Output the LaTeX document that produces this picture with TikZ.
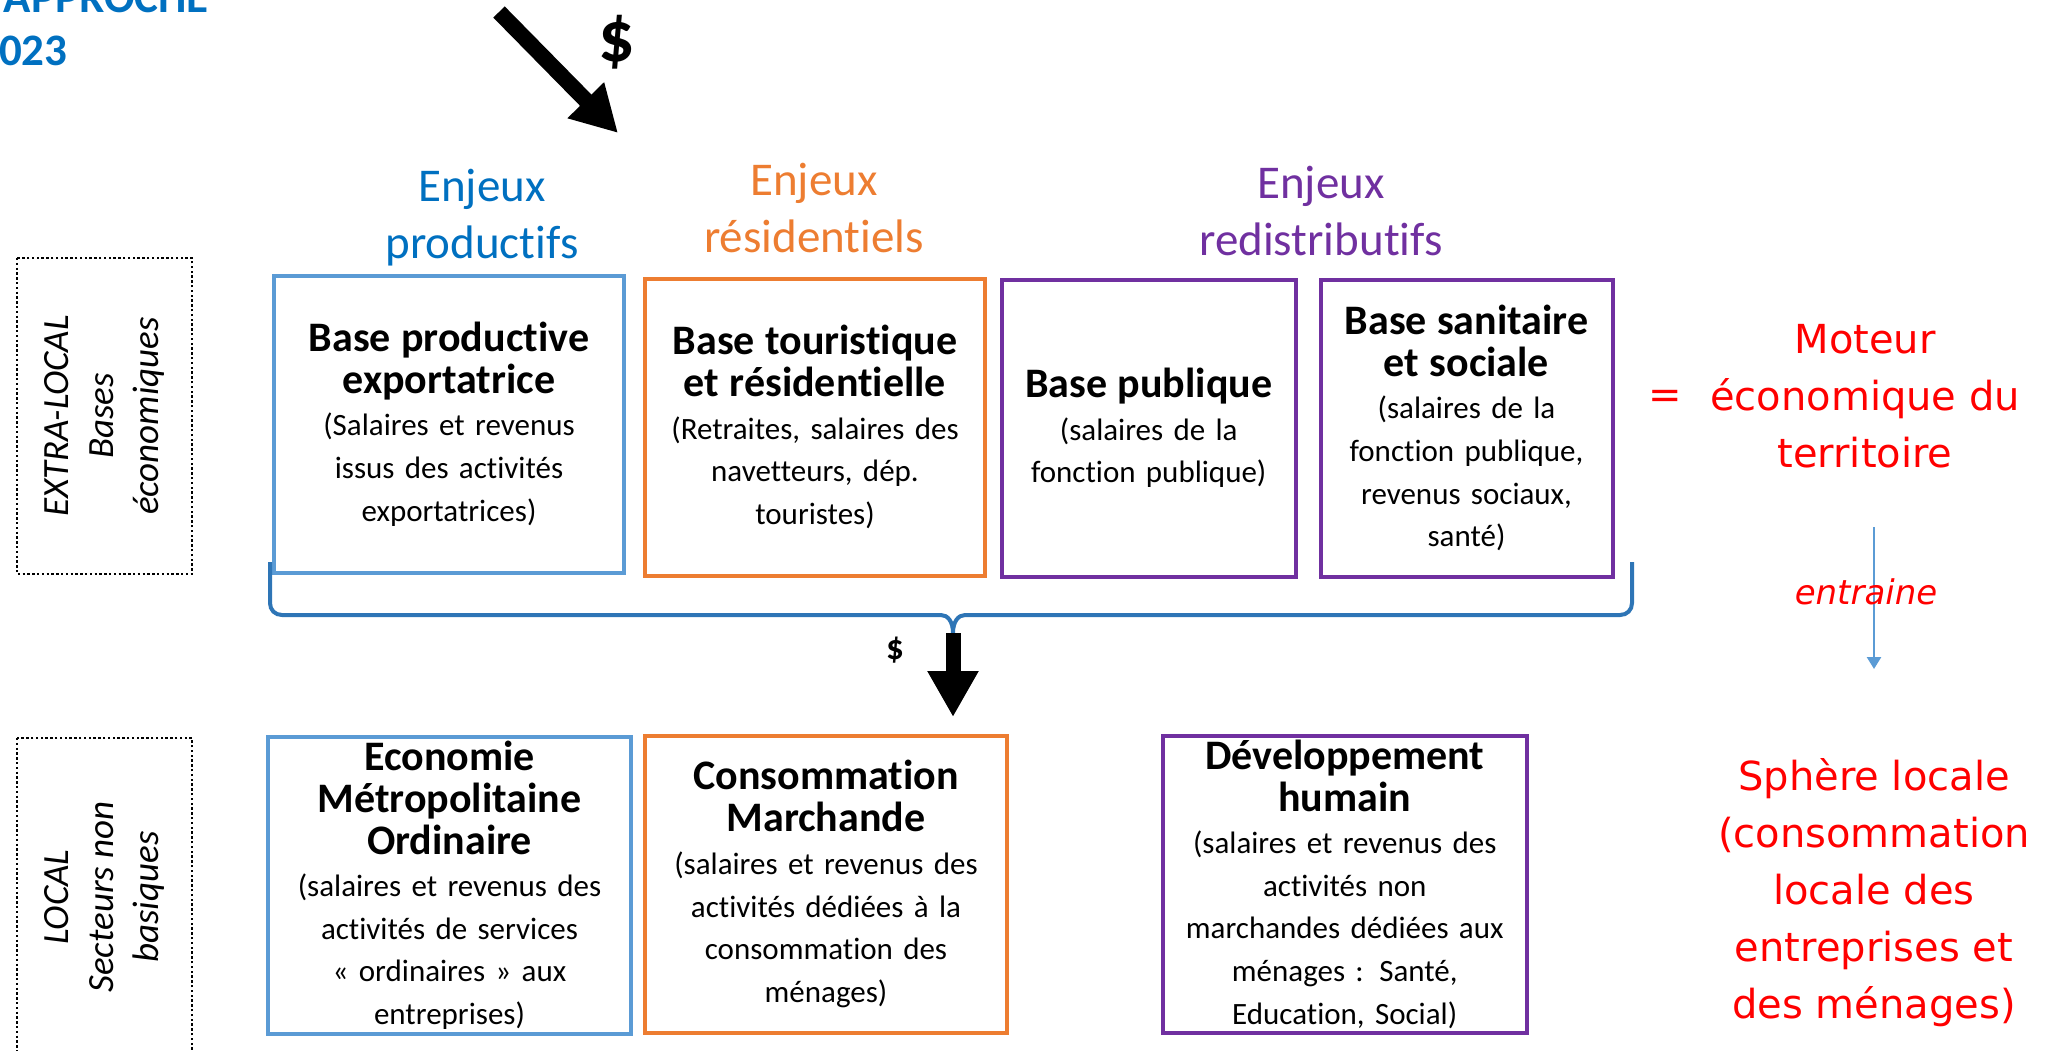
\documentclass[tikz,border=0pt]{standalone}
\usepackage{fontspec}
\setmainfont{Carlito}[Ligatures=NoCommon]
\newfontfamily\redfont{DejaVu Sans}
\usetikzlibrary{arrows.meta}
\definecolor{boxblue}{HTML}{5B9BD5}
\definecolor{boxorange}{HTML}{ED7D31}
\definecolor{boxpurple}{HTML}{7030A0}
\definecolor{hdrblue}{HTML}{0070C0}
\definecolor{braceblue}{HTML}{2E75B6}
\definecolor{motorred}{HTML}{FF0000}
\newcommand{\boxtitle}{\fontsize{21}{21}\selectfont\bfseries}
\newcommand{\boxbody}{\fontsize{15.5}{21.3}\selectfont}

\begin{document}
\begin{tikzpicture}[x=0.5pt, y=0.5pt,
    basebox/.style={draw, line width=2pt, align=center, inner sep=2pt, minimum height=148.5pt, font=\boxbody},
    enjeux/.style={align=center, font=\fontsize{23.5}{28.5}\selectfont},
    sidelabel/.style={draw, line width=1.2pt, dash pattern=on 1.2pt off 1.2pt, rotate=90, align=center, minimum height=87.5pt, font=\itshape\fontsize{18.5}{22.5}\selectfont},
    redtext/.style={text=motorred, align=center, font=\redfont\fontsize{20}{28.5}\selectfont},
    flow/.style={line width=8pt, -{Triangle[width=24pt,length=23pt]}}
  ]
  \useasboundingbox (0,0) rectangle (2045,-1050);
  \clip (0,0) rectangle (2045,-1050);

  % title, cut by the frame
  \node[anchor=base east, inner sep=0pt, text=hdrblue, font=\bfseries\fontsize{22.5}{26}\selectfont] (titre) at (209,-12) {APPROCHE};
  \node[anchor=base east, inner sep=0pt, text=hdrblue, font=\bfseries\fontsize{22.5}{26}\selectfont] (annee) at (68,-65) {2023};

  % money coming in
  \coordinate (flux in) at (499,-12);
  \coordinate (flux base) at (618,-133);
  \draw[flow] (flux in) -- (flux base);
  \node[font=\bfseries\fontsize{36}{36}\selectfont] (dollar) at (617,-42) {\$};

  % enjeux
  \node[enjeux, text=hdrblue] (enjprod) at (482,-218) {Enjeux\\productifs};
  \node[enjeux, text=boxorange] (enjres) at (814,-208) {Enjeux\\résidentiels};
  \node[enjeux, text=boxpurple] (enjred) at (1321,-211) {Enjeux\\redistributifs};

  % side labels
  \node[sidelabel, minimum width=158pt] (extra) at (104.5,-416) {EXTRA-LOCAL\\Bases\\économiques};
  \node[sidelabel, minimum width=159pt] (local) at (104.5,-897) {LOCAL\\Secteurs non\\basiques};

  % bases economiques
  \node[basebox, draw=boxblue, minimum width=174.75pt, text width=168pt] (bprod) at (449,-424)
    {{\boxtitle Base productive\\exportatrice\par}(Salaires et revenus\\issus des activités\\exportatrices)};
  \node[basebox, draw=boxorange, minimum width=170pt, text width=164pt] (btour) at (815,-427)
    {{\boxtitle Base touristique\\et résidentielle\par}(Retraites, salaires des\\navetteurs, dép.\\touristes)};
  \node[basebox, draw=boxpurple, minimum width=147.25pt, text width=141pt] (bpub) at (1148.75,-428)
    {{\boxtitle Base publique\par}(salaires de la\\fonction publique)};
  \node[basebox, draw=boxpurple, minimum width=146pt, text width=140pt] (bsan) at (1466.5,-428)
    {{\boxtitle Base sanitaire\\et sociale\par}(salaires de la\\fonction publique,\\revenus sociaux,\\santé)};

  % brace and local flow
  \draw[braceblue, line width=2pt] (270,-562) -- (270,-603) .. controls (270,-610) and (275,-615) .. (282,-615)
    -- (941,-615) .. controls (948,-615) and (953,-622) .. (953,-633)
    .. controls (953,-622) and (958,-615) .. (965,-615)
    -- (1620,-615) .. controls (1627,-615) and (1632,-610) .. (1632,-603) -- (1632,-562);
  \coordinate (accolade) at (953,-633);
  \coordinate (flux local) at (953,-717);
  \draw[flow, line width=7.5pt] (accolade) -- (flux local);
  \node[font=\bfseries\fontsize{17.5}{17.5}\selectfont] (petitdollar) at (895,-650) {\$};

  % secteurs non basiques
  \node[basebox, draw=boxblue, minimum width=181.5pt, text width=175pt] (eco) at (449.5,-885)
    {{\boxtitle Economie\\Métropolitaine\\Ordinaire\par}(salaires et revenus des\\activités de services\\« ordinaires » aux\\entreprises)};
  \node[basebox, draw=boxorange, minimum width=181pt, text width=175pt] (conso) at (826,-884)
    {{\boxtitle Consommation\\Marchande\par}(salaires et revenus des\\activités dédiées à la\\consommation des\\ménages)};
  \node[basebox, draw=boxpurple, minimum width=181.75pt, text width=175pt] (dev) at (1344.75,-884)
    {{\boxtitle Développement\\humain\par}(salaires et revenus des\\activités non\\marchandes dédiées aux\\ménages : Santé,\\Education, Social)};

  % moteur -> sphere locale
  \node[redtext] (egal) at (1665,-399) {=};
  \node[redtext] (moteur) at (1865,-396) {Moteur\\économique du\\territoire};
  \coordinate (ent haut) at (1874,-527);
  \coordinate (ent bas) at (1874,-669);
  \draw[boxblue, line width=1.3pt, -{Triangle[width=7pt,length=6pt]}] (ent haut) -- (ent bas);
  \node[text=motorred, font=\redfont\itshape\fontsize{17}{20}\selectfont] (entraine) at (1866,-592) {entraine};
  \node[redtext] (sphere) at (1874,-893) {Sphère locale\\(consommation\\locale des\\entreprises et\\des ménages)};
\end{tikzpicture}
\end{document}
